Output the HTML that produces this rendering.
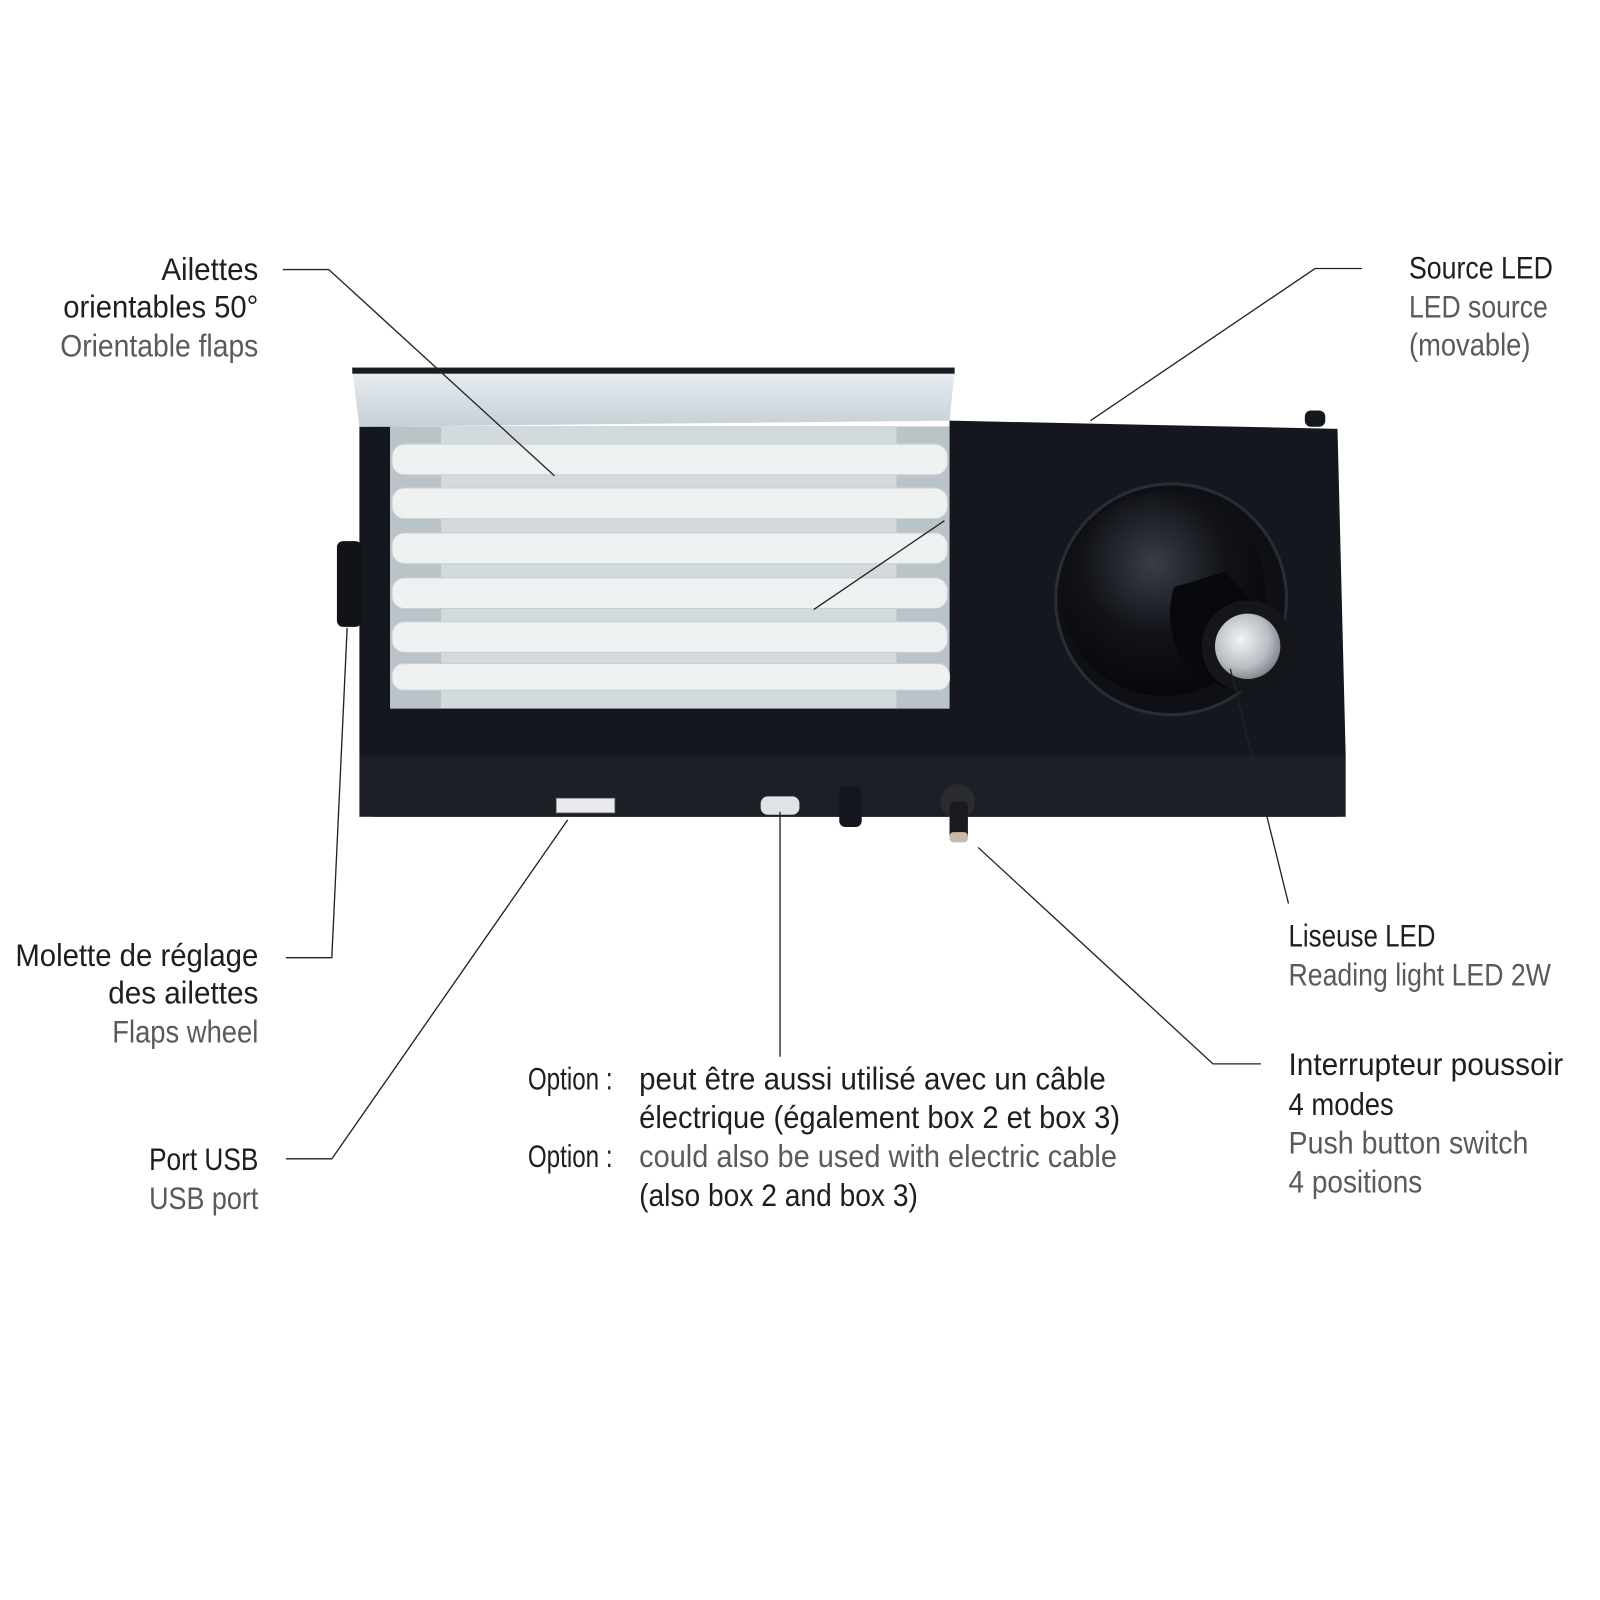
<!DOCTYPE html>
<html><head><meta charset="utf-8"><style>
html,body{margin:0;padding:0;background:#fff;}
svg{display:block}
text{font-family:"Liberation Sans Narrow","Liberation Sans",sans-serif;font-size:31px;}
.d{fill:#1e1e1e}
.l{fill:#5a5a5a}
</style></head><body>
<svg width="1600" height="1600" viewBox="0 0 1600 1600" xmlns="http://www.w3.org/2000/svg">
<defs>
<radialGradient id="cone" cx="0.45" cy="0.35" r="0.7">
<stop offset="0" stop-color="#3a3d48"/><stop offset="0.5" stop-color="#111318"/><stop offset="1" stop-color="#050608"/>
</radialGradient>
<radialGradient id="lens" cx="0.4" cy="0.4" r="0.7">
<stop offset="0" stop-color="#f2f4f6"/><stop offset="0.6" stop-color="#b9bec4"/><stop offset="1" stop-color="#6e737a"/>
</radialGradient>
<linearGradient id="refl" x1="0" y1="0" x2="0" y2="1">
<stop offset="0" stop-color="#e9eef2"/><stop offset="1" stop-color="#c6d0d6"/>
</linearGradient>
</defs>
<g transform="scale(1.021)">
<path d="M352 418 L930 418 L930 412 L1310 420 L1318 740 L1310 800 L365 800 L352 740 Z" fill="#15171e"/>
<rect x="352" y="740" width="966" height="60" fill="#1d1f27"/>
<path d="M345 362 L935 362 L930 412 L352 418 Z" fill="url(#refl)"/>
<rect x="345" y="360" width="590" height="6" fill="#1a1c22"/>
<rect x="382" y="418" width="548" height="276" fill="#d2dade"/>
<rect x="382" y="418" width="50" height="276" fill="#b9c3c8"/>
<rect x="878" y="418" width="52" height="276" fill="#b9c3c8"/>
<g fill="#eef1f2" stroke="#c9d0d4" stroke-width="1">
<rect x="384" y="435" width="544" height="30" rx="12"/>
<rect x="384" y="478" width="544" height="30" rx="12"/>
<rect x="384" y="522" width="544" height="30" rx="12"/>
<rect x="384" y="566" width="544" height="30" rx="12"/>
<rect x="384" y="609" width="544" height="30" rx="12"/>
<rect x="384" y="650" width="546" height="26" rx="11"/>
</g>
<rect x="330" y="530" width="24" height="84" rx="6" fill="#121318"/>
<rect x="1278" y="402" width="20" height="16" rx="6" fill="#15171e"/>
<circle cx="1147" cy="587" r="113" fill="#0e1015" stroke="#2a2d36" stroke-width="3"/>
<circle cx="1140" cy="582" r="100" fill="url(#cone)"/>
<path d="M1150 575 L1200 560 L1245 610 L1200 675 L1160 650 Q1138 612 1150 575 Z" fill="#08090c"/>
<circle cx="1222" cy="633" r="45" fill="#15161b"/>
<circle cx="1222" cy="633" r="32" fill="url(#lens)"/>
<rect x="545" y="782" width="57" height="14" fill="#e8eaec" stroke="#999" stroke-width="1"/>
<rect x="745" y="780" width="38" height="18" rx="7" fill="#dfe3e6"/>
<rect x="822" y="770" width="22" height="40" rx="6" fill="#15171e"/>
<circle cx="938" cy="785" r="17" fill="#2a2b30"/>
<rect x="930" y="785" width="18" height="38" rx="5" fill="#1a1b20"/>
<rect x="930" y="815" width="18" height="10" rx="4" fill="#c9b9a8"/>
<g stroke="#222" stroke-width="1.3" fill="none">
<polyline points="277,264 322,264 543,466"/>
<line x1="797" y1="597" x2="925" y2="510"/>
<polyline points="1334,263 1288,263 1068,412"/>
<polyline points="280,938 325,938 340,615"/>
<polyline points="280,1135 325,1135 556,803"/>
<line x1="764" y1="795" x2="764" y2="1035"/>
<polyline points="1235,1042 1188,1042 958,830"/>
<line x1="1262" y1="885" x2="1205" y2="655"/>
</g>
<g text-anchor="end">
<text x="253" y="274" class="d" textLength="95" lengthAdjust="spacingAndGlyphs">Ailettes</text>
<text x="253" y="311" class="d" textLength="191" lengthAdjust="spacingAndGlyphs">orientables 50°</text>
<text x="253" y="349" class="l" textLength="194" lengthAdjust="spacingAndGlyphs">Orientable flaps</text>
<text x="253" y="946" class="d" textLength="238" lengthAdjust="spacingAndGlyphs">Molette de réglage</text>
<text x="253" y="983" class="d" textLength="147" lengthAdjust="spacingAndGlyphs">des ailettes</text>
<text x="253" y="1021" class="l" textLength="143" lengthAdjust="spacingAndGlyphs">Flaps wheel</text>
<text x="253" y="1146" class="d" textLength="107" lengthAdjust="spacingAndGlyphs">Port USB</text>
<text x="253" y="1184" class="l" textLength="107" lengthAdjust="spacingAndGlyphs">USB port</text>
</g>
<text x="1380" y="273" class="d" textLength="141" lengthAdjust="spacingAndGlyphs">Source LED</text>
<text x="1380" y="311" class="l" textLength="136" lengthAdjust="spacingAndGlyphs">LED source</text>
<text x="1380" y="348" class="l" textLength="119" lengthAdjust="spacingAndGlyphs">(movable)</text>
<text x="1262" y="927" class="d" textLength="144" lengthAdjust="spacingAndGlyphs">Liseuse LED</text>
<text x="1262" y="965" class="l" textLength="257" lengthAdjust="spacingAndGlyphs">Reading light LED 2W</text>
<text x="1262" y="1053" class="d" textLength="269" lengthAdjust="spacingAndGlyphs">Interrupteur poussoir</text>
<text x="1262" y="1092" class="d" textLength="103" lengthAdjust="spacingAndGlyphs">4 modes</text>
<text x="1262" y="1130" class="l" textLength="235" lengthAdjust="spacingAndGlyphs">Push button switch</text>
<text x="1262" y="1168" class="l" textLength="131" lengthAdjust="spacingAndGlyphs">4 positions</text>
<text x="517" y="1067" class="d" textLength="83" lengthAdjust="spacingAndGlyphs">Option :</text>
<text x="626" y="1067" class="d" textLength="457" lengthAdjust="spacingAndGlyphs">peut être aussi utilisé avec un câble</text>
<text x="626" y="1105" class="d" textLength="471" lengthAdjust="spacingAndGlyphs">électrique (également box 2 et box 3)</text>
<text x="517" y="1143" class="d" textLength="83" lengthAdjust="spacingAndGlyphs">Option :</text>
<text x="626" y="1143" class="l" textLength="468" lengthAdjust="spacingAndGlyphs">could also be used with electric cable</text>
<text x="626" y="1181" class="d" textLength="273" lengthAdjust="spacingAndGlyphs">(also box 2 and box 3)</text>
</g>
</svg>
</body></html>
